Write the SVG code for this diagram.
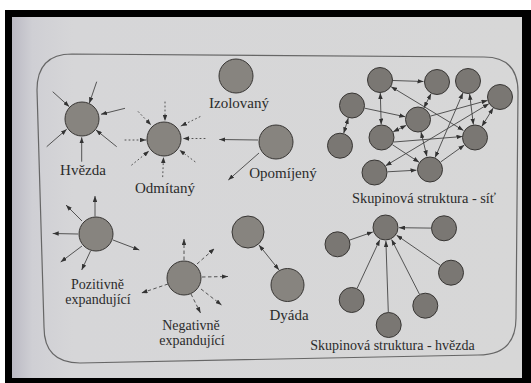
<svg xmlns="http://www.w3.org/2000/svg" width="531" height="383" viewBox="0 0 531 383">
<defs>
<linearGradient id="page" x1="0" y1="0" x2="1" y2="0">
<stop offset="0" stop-color="#bbbac4"/>
<stop offset="0.04" stop-color="#cfcfd4"/>
<stop offset="0.12" stop-color="#d6d6d8"/>
<stop offset="1" stop-color="#d7d7d7"/>
</linearGradient>
<marker id="ah" viewBox="0 0 8 6" markerWidth="6" markerHeight="4.5" markerUnits="userSpaceOnUse" refX="8" refY="3" orient="auto-start-reverse">
<path d="M0,0 L8,3 L0,6 z" fill="#333"/>
</marker>
</defs>
<style>
.n{fill:#87847f;stroke:#383634;stroke-width:1}
.m{fill:#7a7773;stroke:#383634;stroke-width:1}
.c{stroke:#444;stroke-width:0.9;fill:none}
.dot{stroke-dasharray:1 3;stroke-linecap:round}
.dash{stroke-dasharray:3.5 2.5}
.e{marker-end:url(#ah)}
.b{marker-start:url(#ah);marker-end:url(#ah)}
text{font-family:"Liberation Serif","Times New Roman",serif;font-size:15px;fill:#2b2b2b;text-anchor:middle}
.t2{font-size:14px}
</style>
<rect x="0" y="0" width="531" height="383" fill="#ffffff"/>
<rect x="5" y="10" width="526" height="373" fill="#000"/>
<rect x="12" y="17" width="510" height="361" fill="url(#page)"/>
<path d="M72,54 L484,57 Q518,57 518,92 L516,318 Q516,355 478,355 L80,363 Q44,363 44,327 L37,90 Q37,54 72,54 Z" fill="none" stroke="#666" stroke-width="1.2"/>

<g id="connectors">
<!-- Hvezda -->
<line class="c e" x1="52.7" y1="91.7" x2="69.3" y2="106.7"/>
<line class="c e" x1="96.7" y1="81.7" x2="89.3" y2="103.3"/>
<line class="c e" x1="125" y1="108.3" x2="101" y2="114.3"/>
<line class="c e" x1="46.7" y1="146.7" x2="66.7" y2="129.3"/>
<line class="c e" x1="81.7" y1="161.7" x2="81.7" y2="137.3"/>
<line class="c e" x1="116.7" y1="146.7" x2="96" y2="130"/>
<!-- Odmitany -->
<line class="c dot e" x1="165" y1="102" x2="165" y2="121"/>
<line class="c dot e" x1="200" y1="116.7" x2="181" y2="126"/>
<line class="c dot e" x1="205" y1="138.5" x2="183" y2="138.5"/>
<line class="c dot e" x1="195" y1="161.7" x2="179.5" y2="150"/>
<line class="c dot e" x1="162.7" y1="176.7" x2="163.5" y2="157"/>
<line class="c dot e" x1="131.7" y1="165" x2="149" y2="151"/>
<line class="c dot e" x1="125" y1="140" x2="146" y2="140"/>
<line class="c dot e" x1="138.3" y1="111.7" x2="151" y2="125"/>
<!-- Opomijeny -->
<line class="c e" x1="258" y1="140" x2="219.3" y2="139.5"/>
<line class="c e" x1="259" y1="153" x2="228.3" y2="180"/>
<!-- Pozitivne -->
<line class="c e" x1="95" y1="216.5" x2="95" y2="196"/>
<line class="c e" x1="82" y1="221" x2="66" y2="205"/>
<line class="c e" x1="78" y1="234" x2="52.7" y2="233.5"/>
<line class="c e" x1="113" y1="240" x2="139.3" y2="250"/>
<line class="c e" x1="82" y1="246" x2="60.7" y2="262"/>
<line class="c e" x1="90.5" y1="251" x2="81.7" y2="270"/>
<!-- Negativne -->
<line class="c dash e" x1="184" y1="260" x2="184" y2="239"/>
<line class="c dash e" x1="197" y1="264" x2="214.5" y2="248.5"/>
<line class="c dash e" x1="202" y1="277" x2="228" y2="276.5"/>
<line class="c dash e" x1="201" y1="289" x2="221.5" y2="305"/>
<line class="c dash e" x1="191" y1="294" x2="200.5" y2="313"/>
<line class="c dash e" x1="168" y1="284" x2="141.5" y2="293"/>
<!-- Dyada -->
<line class="c b" x1="259" y1="245" x2="279" y2="270"/>
<!-- Network -->
<line class="c e" x1="393" y1="80.5" x2="423.5" y2="81.5"/>
<line class="c b" x1="380.3" y1="93" x2="381.2" y2="124.5"/>
<line class="c b" x1="391.1" y1="86.7" x2="463.5" y2="130.5"/>
<line class="c b" x1="431.1" y1="93.6" x2="423.9" y2="107.9"/>
<line class="c b" x1="469.6" y1="93.9" x2="473.4" y2="124.6"/>
<line class="c b" x1="462.9" y1="92.9" x2="435.1" y2="157.6"/>
<line class="c b" x1="493.2" y1="108.1" x2="481.8" y2="126.4"/>
<line class="c e" x1="430.5" y1="116.1" x2="487.5" y2="100.4"/>
<line class="c b" x1="385.6" y1="165.8" x2="488.9" y2="103.7"/>
<line class="c e" x1="364.7" y1="108.2" x2="405.3" y2="116.8"/>
<line class="c b" x1="348.3" y1="118" x2="343.7" y2="133.2"/>
<line class="c b" x1="393.2" y1="131.8" x2="406.3" y2="125.3"/>
<line class="c e" x1="394" y1="142" x2="462.5" y2="136.5"/>
<line class="c e" x1="392.4" y1="144.7" x2="419.1" y2="162.3"/>
<line class="c b" x1="421" y1="132.1" x2="426.9" y2="156.4"/>
<line class="c e" x1="387.5" y1="171.8" x2="416.5" y2="170.2"/>
<line class="c e" x1="440.6" y1="162" x2="464.4" y2="145"/>
<!-- Star structure -->
<line class="c e" x1="349.8" y1="240" x2="372.8" y2="232"/>
<line class="c e" x1="431" y1="228.1" x2="399" y2="227.7"/>
<line class="c e" x1="440.3" y1="265.3" x2="396.6" y2="235.2"/>
<line class="c e" x1="357.2" y1="288.2" x2="379.8" y2="239.7"/>
<line class="c e" x1="388.3" y1="312" x2="385.9" y2="241"/>
<line class="c e" x1="419.4" y1="294.1" x2="391.6" y2="239.5"/>
</g>

<g id="hvezda"><circle class="n" cx="82" cy="119" r="17"/><text x="83" y="175">Hvězda</text></g>
<g id="odmitany"><circle class="n" cx="164" cy="139" r="17"/><text x="165" y="193">Odmítaný</text></g>
<g id="izolovany"><circle class="n" cx="236" cy="76" r="17"/><text x="239" y="108">Izolovaný</text></g>
<g id="opomijeny"><circle class="n" cx="276" cy="142" r="17"/><text x="283" y="178">Opomíjený</text></g>
<g id="pozitivne"><circle class="n" cx="96" cy="234" r="17"/><text class="t2" x="97.5" y="288.5">Pozitivně</text><text class="t2" x="98" y="304">expandující</text></g>
<g id="negativne"><circle class="n" cx="184" cy="278" r="17"/><text class="t2" x="191" y="329.5">Negativně</text><text class="t2" x="192" y="345">expandující</text></g>
<g id="dyada"><circle class="n" cx="248" cy="232" r="16"/><circle class="n" cx="287.5" cy="285" r="16.5"/><text x="289" y="319.5">Dyáda</text></g>

<g id="sit">
<circle class="m" cx="380" cy="80" r="12.5"/>
<circle class="m" cx="437" cy="82" r="12.5"/>
<circle class="m" cx="468" cy="81" r="12.5"/>
<circle class="m" cx="500" cy="97" r="12.5"/>
<circle class="m" cx="352" cy="105.5" r="12.5"/>
<circle class="m" cx="418" cy="119.5" r="12.5"/>
<circle class="m" cx="381.5" cy="137.5" r="12.5"/>
<circle class="m" cx="475" cy="137.5" r="12.5"/>
<circle class="m" cx="340" cy="145.7" r="12.5"/>
<circle class="m" cx="374.5" cy="172.5" r="12.5"/>
<circle class="m" cx="430" cy="169.5" r="12.5"/>
<text x="424" y="203" style="font-size:14.4px">Skupinová struktura - síť</text>
</g>

<g id="hvezda-struktura">
<circle class="m" cx="385.5" cy="227.5" r="12.5"/>
<circle class="m" cx="337.5" cy="244.3" r="12.5"/>
<circle class="m" cx="444" cy="228.3" r="12.5"/>
<circle class="m" cx="451" cy="272.7" r="12.5"/>
<circle class="m" cx="351.7" cy="300" r="12.5"/>
<circle class="m" cx="388.7" cy="325" r="12.5"/>
<circle class="m" cx="425.3" cy="305.7" r="12.5"/>
<text x="392.5" y="349.5" style="font-size:14px">Skupinová struktura - hvězda</text>
</g>
</svg>
